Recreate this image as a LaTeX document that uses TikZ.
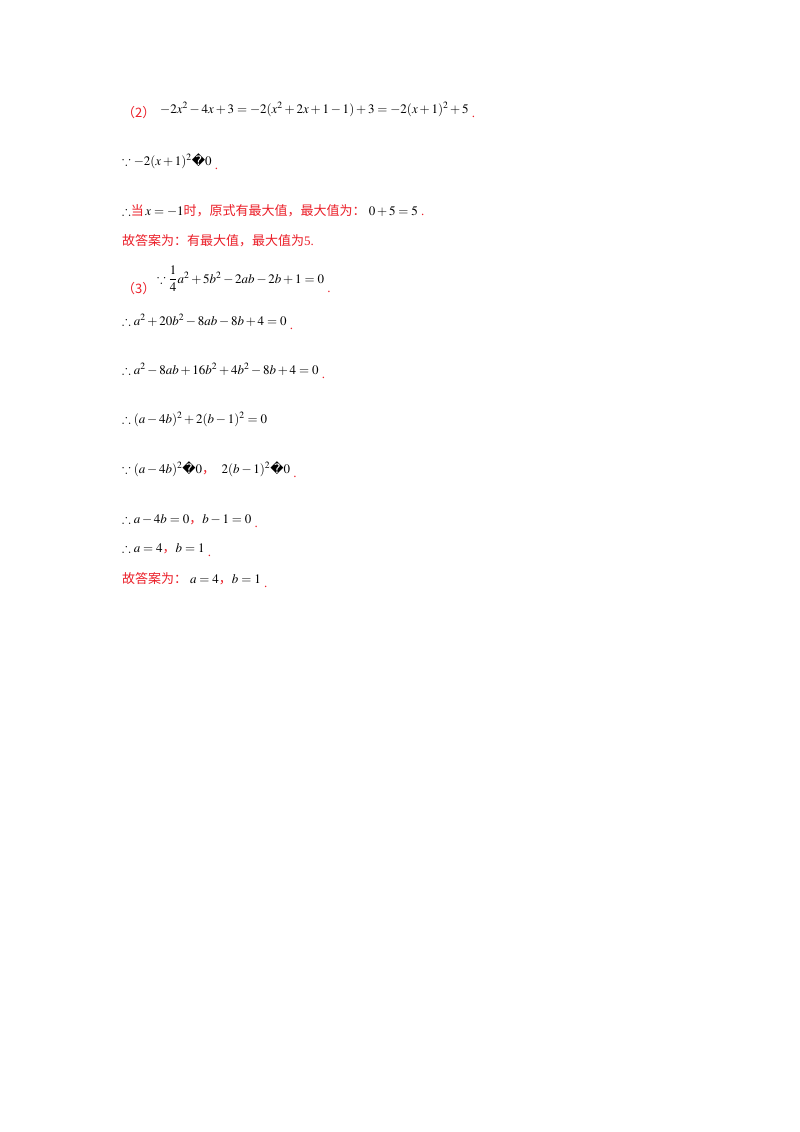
\documentclass[tikz,border=0pt]{standalone}
\usepackage{amsmath,amssymb}
\usepackage{mathptmx}
\usepackage{fontspec}
\setmainfont{Liberation Serif}
\newfontfamily\cjk{Noto Sans CJK SC}
\newfontfamily\dv{DejaVu Sans}
\definecolor{ansred}{RGB}{235,30,40}
\newcommand{\qq}{{\dv\char"FFFD}}
\newcommand{\rdot}{\textcolor{ansred}{\ \raisebox{-4pt}{.}}}
\begin{document}
\begin{tikzpicture}[x=1pt,y=1pt,
  ln/.style={anchor=base west,inner sep=0pt,font=\fontsize{13}{15}\selectfont},
  rd/.style={ln,text=ansred}]
\useasboundingbox[fill=white] (0,0) rectangle (800,-1132);
\node[rd] (p2) at (122,-117) {\cjk（2）};
\node[ln] (m2) at (160,-113) {$-2x^2-4x+3=-2(x^2+2x+1-1)+3=-2(x+1)^2+5$\rdot};
\node[ln] (l2) at (122,-165) {$\because -2(x+1)^2$\qq$0$\rdot};
\node[ln] (l3) at (122,-215) {$\therefore$\textcolor{ansred}{\cjk 当}$\,x=-1$\textcolor{ansred}{\cjk 时，原式有最大值，最大值为：}\ $0+5=5$\textcolor{ansred}{\ .}};
\node[rd] (l4) at (122,-245) {\cjk 故答案为：有最大值，最大值为\rmfamily 5.};
\node[rd] (p3) at (122,-293) {\cjk（3）};
\node[ln] (m3) at (157,-283) {$\because \dfrac{1}{4}a^2+5b^2-2ab-2b+1=0$\textcolor{ansred}{\ \raisebox{-9pt}{.}}};
\node[ln] (l5) at (122,-325) {$\therefore a^2+20b^2-8ab-8b+4=0$\rdot};
\node[ln] (l6) at (122,-374) {$\therefore a^2-8ab+16b^2+4b^2-8b+4=0$\rdot};
\node[ln] (l7) at (122,-423) {$\therefore (a-4b)^2+2(b-1)^2=0$};
\node[ln] (l8) at (122,-473) {$\because (a-4b)^2$\qq$0$\textcolor{ansred}{\cjk，}\ \ $2(b-1)^2$\qq$0$\rdot};
\node[ln] (l9) at (122,-523) {$\therefore a-4b=0$\textcolor{ansred}{\cjk ，}$b-1=0$\rdot};
\node[ln] (l10) at (122,-552) {$\therefore a=4$\textcolor{ansred}{\cjk ，}$b=1$\rdot};
\node[rd] (l11) at (122,-583) {\cjk 故答案为：\rmfamily\textcolor{black}{$\;a=4$}\cjk ，\textcolor{black}{$b=1$}\rmfamily\ \raisebox{-4pt}{.}};
\end{tikzpicture}
\end{document}
